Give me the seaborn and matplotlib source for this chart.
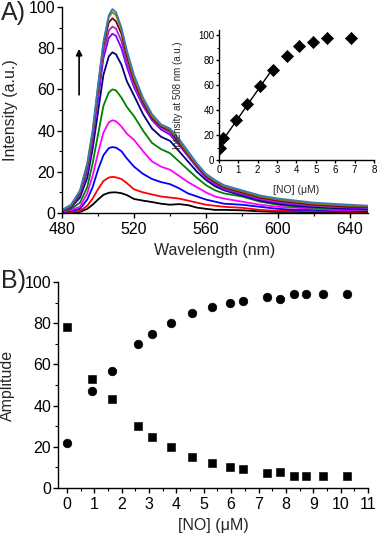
import matplotlib
matplotlib.use("Agg")
import matplotlib.pyplot as plt
import numpy as np
import pandas as pd
import seaborn as sns
from matplotlib.ticker import MultipleLocator

# ---------------------------------------------------------------------------
# Data
# ---------------------------------------------------------------------------

wavelength = [480, 485, 490, 494, 497, 500, 503, 506, 508, 510, 513, 516,
              520, 525, 530, 535, 540, 545, 550, 555, 560, 565, 570, 580,
              590, 600, 610, 620, 630, 640, 650]

spec_black   = [0.1, 0.3, 0.5, 2, 4, 6.5, 8.8, 9.8, 10, 10, 9.6, 8.7,
                6.8, 6, 5.3, 4.5, 4, 4.3, 3.8, 2.6, 2, 1.5, 1.5, 1.3,
                0.8, 0.5, 0.5, 0.4, 0.3, 0.3, 0.3]
spec_red     = [0.2, 0.5, 1, 3.5, 7, 11.5, 15.5, 17.2, 17.5, 17.3, 16.5, 14.5,
                11.5, 10, 9, 8, 7.5, 7, 6, 5, 4, 3.5, 3, 2.5,
                1.5, 1, 1, 0.8, 0.8, 0.6, 0.6]
spec_blue    = [0.3, 1, 2, 6.5, 12.5, 21, 28, 31.5, 32, 31.7, 30, 26.5,
                22.5, 19, 16.5, 15, 14, 12, 9.5, 8, 6.5, 5.5, 4.5, 4,
                3, 2, 1.5, 1.5, 1, 1, 1]
spec_magenta = [0.5, 1.5, 3, 9.5, 18, 29, 39, 44, 45, 44.5, 42, 38.5,
                35.5, 30, 25, 22.5, 21, 18, 15, 12.5, 10, 8, 7, 5.5,
                4, 3, 2.5, 2, 1.5, 1.5, 1.5]
spec_green   = [0.7, 2, 5, 12.5, 24, 38, 52, 58.5, 60, 59.5, 56, 51.5,
                47, 40, 34, 31, 29, 25, 21, 17, 13.5, 11, 9.5, 8,
                5.5, 4, 3, 2.5, 2, 2, 1.5]
spec_navy    = [0.9, 2.7, 7.5, 17, 31, 49, 67, 76, 78, 77, 72, 64,
                57, 48, 41, 37, 35, 30, 25, 20, 16, 13, 11, 8.5,
                6, 4.5, 3.5, 3, 2.5, 2, 2]
spec_violet  = [1, 3, 9, 20, 35, 55, 75, 85, 87, 86, 80, 71,
                61, 52, 45, 40.5, 38, 33, 27.5, 22, 17, 14, 11.5, 9,
                6.5, 5, 4, 3.5, 3, 2.5, 2.5]
spec_purple  = [1.1, 3.3, 9.5, 21, 36.5, 57, 78, 88.5, 90.5, 89.5, 83.5, 73,
                62, 53, 45.5, 41.5, 39, 33.5, 28, 22.5, 17.5, 14.5, 12, 9.5,
                7, 5.5, 4.5, 3.5, 3, 3, 2.5]
spec_wine    = [1.2, 3.5, 10, 22.5, 38, 60, 81, 92.5, 94.5, 93, 87, 76,
                64, 54, 46, 42, 40, 34, 28.5, 23, 18, 15, 12.5, 10,
                7.5, 6, 5, 4, 3.5, 3, 3]
spec_olive   = [1.3, 3.7, 10.5, 23.5, 39, 61, 82.5, 95, 97.5, 96, 89, 78,
                65.5, 55, 47, 42.5, 40.5, 35, 29, 23.5, 18.5, 15.5, 13, 10.5,
                8, 6.5, 5.5, 4.5, 4, 3.5, 3.5]
spec_steel   = [1.5, 4, 11, 24, 40, 62, 83, 96, 99, 97.5, 90, 79,
                67, 56, 48, 43, 41, 36, 30, 24, 19, 16, 13.5, 11,
                8.5, 7, 6, 5, 4.5, 4, 3.5]

spectra = [spec_black, spec_red, spec_blue, spec_magenta, spec_green, spec_navy,
           spec_violet, spec_purple, spec_wine, spec_olive, spec_steel]
spec_colors = ["black", "#ff0000", "#0000ff", "#ff00ff", "#008000", "#000080",
               "#8000ff", "#9b30c8", "#800000", "#808000", "#3a78b8"]

# inset: intensity at 508 nm vs [NO]
inset_no = [0.03, 0.2, 0.9, 1.45, 2.1, 2.8, 3.5, 4.15, 4.85, 5.55, 6.8]
inset_int = [9.5, 17.5, 32, 44.5, 59.5, 72, 83.5, 91, 94.5, 97.5, 98]
n_linear = 6  # points used for the linear fit

# panel B: amplitudes
no_conc = [0, 0.9, 1.65, 2.6, 3.1, 3.8, 4.55, 5.3, 5.95, 6.45, 7.3, 7.8, 8.3,
           8.75, 9.35, 10.25]
amp_circle = [22, 47, 57, 70, 75, 80, 85, 88, 90, 91, 92.5, 92, 94, 94, 94, 94]
amp_square = [78, 53, 43, 30, 25, 20, 15, 12, 10, 9, 7.5, 8, 6, 6, 6, 6]

# ---------------------------------------------------------------------------
# Style
# ---------------------------------------------------------------------------

sns.set_style("ticks")
plt.rcParams["font.family"] = ["Liberation Sans", "DejaVu Sans"]
plt.rcParams["axes.linewidth"] = 1.0
plt.rcParams["xtick.direction"] = "out"
plt.rcParams["ytick.direction"] = "out"


def style_axis(ax, size=11, major=3.5, minor=2.0):
    sns.despine(ax=ax)
    ax.tick_params(which="major", length=major, width=1.0, labelsize=size,
                   color="black", labelcolor="black", pad=1.5)
    ax.tick_params(which="minor", length=minor, width=0.8, color="black")
    for s in ("left", "bottom"):
        ax.spines[s].set_color("black")


fig = plt.figure(figsize=(3.79, 5.37), dpi=100)

# ── Panel A: spectra ──────────────────────────────────────────────────
ax_a = fig.add_axes([0.1636, 0.6034, 0.8074, 0.3836])
df_spec = pd.DataFrame({
    "wavelength": np.tile(wavelength, len(spectra)),
    "intensity": np.concatenate(spectra),
    "curve": np.repeat(np.arange(len(spectra)), len(wavelength)),
})
sns.lineplot(data=df_spec, x="wavelength", y="intensity", hue="curve",
             palette=spec_colors, linewidth=1.3, legend=False, ax=ax_a)
ax_a.set_xlim(480, 650)
ax_a.set_ylim(0, 100)
ax_a.xaxis.set_major_locator(MultipleLocator(40))
ax_a.xaxis.set_minor_locator(MultipleLocator(20))
ax_a.yaxis.set_major_locator(MultipleLocator(20))
ax_a.yaxis.set_minor_locator(MultipleLocator(10))
style_axis(ax_a, size=11.5)
ax_a.tick_params(axis="x", pad=3)
ax_a.set_xlabel("Wavelength (nm)", fontsize=11.5)
ax_a.set_ylabel("Intensity (a.u.)", fontsize=11.5)
ax_a.xaxis.set_label_coords(0.5, -0.145)
ax_a.yaxis.set_label_coords(-0.145, 0.5)
ax_a.annotate("", xy=(489.5, 81), xytext=(489.5, 56),
              arrowprops=dict(arrowstyle="-|>", color="black", lw=1.2,
                              mutation_scale=9))

# ── Inset ─────────────────────────────────────────────────────────────
ax_in = fig.add_axes([0.5778, 0.7020, 0.4090, 0.2421])
ax_in.patch.set_alpha(0)
sns.regplot(x=inset_no[:n_linear], y=inset_int[:n_linear], ci=None,
            scatter=False, truncate=True, ax=ax_in,
            line_kws={"color": "black", "lw": 1.0})
sns.scatterplot(x=inset_no, y=inset_int, marker="D", s=38, color="black",
                edgecolor="black", ax=ax_in, zorder=3)
ax_in.set_xlim(0, 8)
ax_in.set_ylim(0, 104)
ax_in.xaxis.set_major_locator(MultipleLocator(1))
ax_in.yaxis.set_major_locator(MultipleLocator(20))
ax_in.yaxis.set_minor_locator(MultipleLocator(10))
style_axis(ax_in, size=7, major=2.5, minor=1.5)
ax_in.tick_params(pad=1)
ax_in.set_xlabel("[NO] (\u03bcM)", fontsize=7.5)
ax_in.set_ylabel("Intensity at 508 nm (a.u.)", fontsize=7)
ax_in.xaxis.set_label_coords(0.5, -0.19)
ax_in.yaxis.set_label_coords(-0.23, 0.5)

# ── Panel B: amplitudes ──────────────────────────────────────────────
ax_b = fig.add_axes([0.1530, 0.0912, 0.8179, 0.3836])
sns.scatterplot(x=no_conc, y=amp_circle, marker="o", s=38, color="black",
                edgecolor="black", ax=ax_b)
sns.scatterplot(x=no_conc, y=amp_square, marker="s", s=28, color="black",
                edgecolor="black", ax=ax_b)
ax_b.set_xlim(-0.33, 11)
ax_b.set_ylim(0, 100)
ax_b.xaxis.set_major_locator(MultipleLocator(1))
ax_b.xaxis.set_minor_locator(MultipleLocator(0.5))
ax_b.yaxis.set_major_locator(MultipleLocator(20))
ax_b.yaxis.set_minor_locator(MultipleLocator(10))
style_axis(ax_b, size=11.5)
ax_b.tick_params(axis="x", pad=3)
ax_b.set_xlabel("[NO] (\u03bcM)", fontsize=11.5)
ax_b.set_ylabel("Amplitude", fontsize=11.5)
ax_b.xaxis.set_label_coords(0.5, -0.146)
ax_b.yaxis.set_label_coords(-0.139, 0.5)

fig.text(0.003, 0.999, "A)", fontsize=18, va="top", ha="left")
fig.text(0.003, 0.499, "B)", fontsize=18, va="top", ha="left")

fig.savefig("out.png", dpi=100)
